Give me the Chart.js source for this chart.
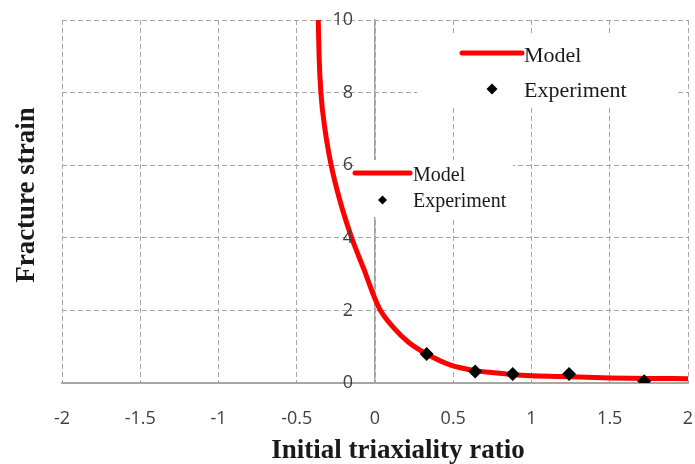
<!DOCTYPE html>
<html>
<head>
<meta charset="utf-8">
<script src="https://cdn.jsdelivr.net/npm/chart.js@4.4.1/dist/chart.umd.min.js"></script>
<style>
  html, body { margin: 0; padding: 0; background: #fff; }
</style>
</head>
<body>
<canvas id="chart" width="695" height="464"></canvas>
<script>
// Curva do modelo (deformação de fratura x triaxialidade inicial)
const modelX = [-0.3626, -0.3572, -0.3457, -0.320, -0.280, -0.2224, -0.149, -0.068, 0, 0.035, 0.12, 0.22, 0.33, 0.48, 0.64, 0.76, 0.88, 1.0, 1.18, 1.5, 1.75, 2.0];
const modelY = [10, 9, 8, 7, 6, 5, 4, 3.1, 2.32, 2.0, 1.52, 1.1, 0.8, 0.5, 0.34, 0.28, 0.23, 0.2, 0.18, 0.14, 0.125, 0.12];

// Pontos experimentais
const expX = [0.33, 0.64, 0.88, 1.24, 1.72];
const expY = [0.8, 0.32, 0.25, 0.25, 0.05];

// Eixos
const xTicks = [-2, -1.5, -1, -0.5, 0, 0.5, 1, 1.5, 2];
const yTicks = [0, 2, 4, 6, 8, 10];

const xTitle = 'Initial triaxiality ratio';
const yTitle = 'Fracture strain';
const seriesNames = ['Model', 'Experiment'];

const gridColor = '#a6a6a6';
const tickColor = '#404040';
const tickFont = { family: 'Open Sans', size: 18 };
const serif = '"Liberation Serif", "Times New Roman", serif';

/**
 * Rótulos do eixo Y ao lado da linha x = 0,
 * quadros de legenda e títulos dos eixos.
 */
const decor = {
  id: 'decor',
  afterDraw(chart) {
    const c = chart.ctx;
    const ys = chart.scales.y;
    const x0 = chart.scales.x.getPixelForValue(0);
    c.save();
    c.fillStyle = tickColor;
    c.font = tickFont.size + 'px "' + tickFont.family + '"';
    c.textAlign = 'right';
    c.textBaseline = 'middle';
    ys.ticks.forEach(t => c.fillText(String(t.value), x0 - 22, ys.getPixelForValue(t.value)));
    c.restore();
  },
  beforeDatasetsDraw(chart) {
    const c = chart.ctx;
    c.save();
    c.fillStyle = '#fff';
    c.fillRect(417, 33, 260, 74);
    c.fillRect(354, 160, 159, 57);
    c.restore();
  },
  afterDatasetsDraw(chart) {
    const c = chart.ctx;
    c.save();

    // legenda superior
    drawLegend(c, { x0: 462, x1: 522, yLine: 53, yDot: 89, r: 5.5, tx: 524, b1: 62, b2: 97, size: 22 });
    // legenda do meio
    drawLegend(c, { x0: 355, x1: 410, yLine: 173, yDot: 200, r: 4.5, tx: 413, b1: 181, b2: 207, size: 20 });

    // títulos dos eixos
    c.fillStyle = '#1a1a1a';
    c.font = 'bold 27px ' + serif;
    c.textAlign = 'center';
    c.textBaseline = 'alphabetic';
    c.fillText(xTitle, 398, 458);

    c.translate(34, 195);
    c.rotate(-Math.PI / 2);
    c.fillText(yTitle, 0, 0);
    c.restore();
  },
};

function drawLegend(c, o) {
  c.save();
  c.strokeStyle = '#ff0000';
  c.lineWidth = 5;
  c.lineCap = 'round';
  c.beginPath();
  c.moveTo(o.x0, o.yLine);
  c.lineTo(o.x1, o.yLine);
  c.stroke();

  const mx = (o.x0 + o.x1) / 2;
  c.fillStyle = '#000';
  c.beginPath();
  c.moveTo(mx, o.yDot - o.r);
  c.lineTo(mx + o.r, o.yDot);
  c.lineTo(mx, o.yDot + o.r);
  c.lineTo(mx - o.r, o.yDot);
  c.closePath();
  c.fill();

  c.fillStyle = '#1a1a1a';
  c.font = o.size + 'px ' + serif;
  c.textAlign = 'left';
  c.textBaseline = 'alphabetic';
  c.fillText(seriesNames[0], o.tx, o.b1);
  c.fillText(seriesNames[1], o.tx, o.b2);
  c.restore();
}

new Chart(document.getElementById('chart'), {
  type: 'scatter',
  data: {
    datasets: [
      {
        label: seriesNames[1],
        data: expX.map((x, i) => ({ x, y: expY[i] })),
        pointStyle: 'rectRot',
        pointRadius: 7,
        backgroundColor: '#000',
        borderColor: '#000',
        borderWidth: 0,
        order: 0,
      },
      {
        label: seriesNames[0],
        data: modelX.map((x, i) => ({ x, y: modelY[i] })),
        showLine: true,
        borderColor: '#ff0000',
        borderWidth: 5,
        pointRadius: 0,
        cubicInterpolationMode: 'monotone',
        order: 1,
      },
    ],
  },
  options: {
    responsive: false,
    animation: false,
    devicePixelRatio: 1,
    layout: { padding: { left: 62, right: 7, top: 20, bottom: 0 } },
    plugins: { legend: { display: false }, tooltip: { enabled: false } },
    scales: {
      x: {
        type: 'linear',
        min: -2,
        max: 2,
        afterBuildTicks: s => { s.ticks = xTicks.map(v => ({ value: v })); },
        // altura fixa e sem recuo lateral extra por causa dos rótulos
        afterFit: s => { s.height = 81; s.paddingLeft = 0; s.paddingRight = 0; },
        ticks: { color: tickColor, font: tickFont, padding: 25, callback: v => String(v) },
        grid: { color: gridColor, lineWidth: 1, drawTicks: false },
        border: { display: true, color: gridColor, width: 2, dash: [5, 3] },
      },
      y: {
        type: 'linear',
        min: 0,
        max: 10,
        position: { x: 0 },
        afterBuildTicks: s => { s.ticks = yTicks.map(v => ({ value: v })); },
        ticks: { display: false },
        grid: { color: gridColor, lineWidth: 1, drawTicks: false },
        border: { display: true, color: gridColor, width: 1.5, dash: [5, 3] },
      },
    },
  },
  plugins: [decor],
});
</script>
</body>
</html>
